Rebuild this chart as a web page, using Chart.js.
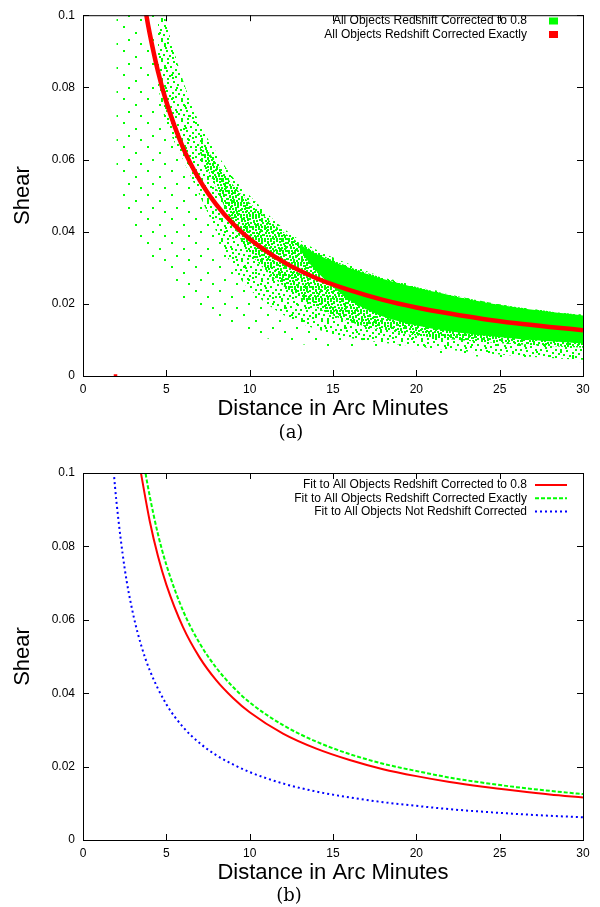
<!DOCTYPE html>
<html>
<head>
<meta charset="utf-8">
<script src="https://cdn.jsdelivr.net/npm/chart.js@4.4.1/dist/chart.umd.min.js"></script>
<style>
  html, body { margin: 0; padding: 0; background: #fff; }
  #page { position: relative; width: 600px; height: 907px; overflow: hidden; }
  canvas { position: absolute; left: 0; }
  #chartA { top: 0; }
  #chartB { top: 445px; }
  .tag { position: absolute; width: 60px; margin-left: -30px; text-align: center;
         font-family: "DejaVu Serif", "Liberation Serif", serif; font-size: 18px; line-height: 20px; color: #000; }
</style>
</head>
<body>
<div id="page">
  <canvas id="chartA" width="600" height="445"></canvas>
  <canvas id="chartB" width="600" height="462"></canvas>
  <div class="tag" style="left:291px; top:422px;">(a)</div>
  <div class="tag" style="left:289px; top:885px;">(b)</div>
</div>
<script>
// --- valores ---
const xTickLabels = ['0', '5', '10', '15', '20', '25', '30'];
const yTickLabels = ['0', '0.02', '0.04', '0.06', '0.08', '0.1'];

// (a) pontos vermelhos: redshift corrigido exatamente (faixa estreita)
const redX = [3.6, 3.8, 4, 4.5, 5, 6, 7, 8, 9, 10, 12, 14, 16, 18, 20, 22, 24, 26, 28, 30];
const redShear = [0.106, 0.1, 0.095, 0.0844, 0.076, 0.0633, 0.0543, 0.0475, 0.0422, 0.038, 0.0317, 0.0271, 0.0238, 0.0211, 0.019, 0.0173, 0.0158, 0.0146, 0.0136, 0.0127];
const redStrayX = [1.95];
const redStrayShear = [0];

// (a) nuvem verde: envelope externo (pontos esparsos)
const cloudX = [2, 2.5, 3, 3.5, 4, 4.5, 5, 6, 7, 8, 9, 10, 12, 14, 16, 18, 20, 22, 24, 26, 28, 30];
const cloudUpper = [0.12, 0.12, 0.12, 0.12, 0.12, 0.11, 0.098, 0.082, 0.071, 0.062, 0.055, 0.05, 0.041, 0.035, 0.031, 0.0275, 0.025, 0.0228, 0.0208, 0.0192, 0.018, 0.017];
const cloudLower = [0.056, 0.048, 0.04, 0.036, 0.033, 0.031, 0.028, 0.021, 0.0175, 0.0165, 0.0145, 0.012, 0.0094, 0.0085, 0.008, 0.0075, 0.0069, 0.006, 0.0053, 0.0047, 0.0042, 0.0038];

// (a) nuvem verde: zona de densidade média
const midX = [4.5, 5, 6, 7, 8, 9, 10, 12, 14, 16, 18, 20, 22, 24, 26, 28, 30];
const midUpper = [0.11, 0.098, 0.082, 0.07, 0.062, 0.055, 0.05, 0.041, 0.035, 0.031, 0.0274, 0.0248, 0.0227, 0.0207, 0.0191, 0.0179, 0.0169];
const midLower = [0.08, 0.07, 0.06, 0.05, 0.04, 0.03, 0.024, 0.017, 0.013, 0.0105, 0.0092, 0.0082, 0.0072, 0.0064, 0.0056, 0.005, 0.0045];

// (a) nuvem verde: zona densa
const denseX = [7, 8, 9, 10, 12, 14, 16, 18, 20, 22, 24, 26, 28, 30];
const denseUpper = [0.066, 0.059, 0.053, 0.048, 0.04, 0.0342, 0.0302, 0.0272, 0.0247, 0.0226, 0.0207, 0.0191, 0.0179, 0.0169];
const denseLower = [0.062, 0.052, 0.042, 0.034, 0.025, 0.019, 0.015, 0.0128, 0.0112, 0.0102, 0.0094, 0.0088, 0.0083, 0.0078];

// (a) nuvem verde: núcleo quase sólido
const coreX = [13, 14, 16, 18, 20, 22, 24, 26, 28, 30];
const coreUpper = [0.0365, 0.0338, 0.0299, 0.0269, 0.0245, 0.0224, 0.0205, 0.019, 0.0178, 0.0168];
const coreLower = [0.035, 0.029, 0.021, 0.0165, 0.014, 0.0124, 0.0112, 0.0103, 0.0096, 0.009];

// (b) curvas ajustadas
const fitRedX = [3.4, 3.5, 4, 4.5, 5, 6, 7, 8, 9, 10, 12, 14, 16, 18, 20, 22, 24, 26, 28, 30];
const fitRedShear = [0.102, 0.0994, 0.087, 0.0773, 0.0696, 0.058, 0.0497, 0.0435, 0.0387, 0.0348, 0.029, 0.0249, 0.0218, 0.0193, 0.0174, 0.0158, 0.0145, 0.0134, 0.0124, 0.0116];
const fitGreenX = [3.7, 3.75, 4, 4.5, 5, 6, 7, 8, 9, 10, 12, 14, 16, 18, 20, 22, 24, 26, 28, 30];
const fitGreenShear = [0.1015, 0.1, 0.0938, 0.0833, 0.075, 0.0625, 0.0536, 0.0469, 0.0417, 0.0375, 0.0313, 0.0268, 0.0234, 0.0208, 0.0188, 0.017, 0.0156, 0.0144, 0.0134, 0.0125];
const fitBlueX = [1.8, 1.85, 2, 2.5, 3, 3.5, 4, 5, 6, 7, 8, 9, 10, 12, 14, 16, 18, 20, 22, 24, 26, 28, 30];
const fitBlueShear = [0.103, 0.1, 0.0925, 0.074, 0.0617, 0.0529, 0.0463, 0.037, 0.0308, 0.0264, 0.0231, 0.0206, 0.0185, 0.0154, 0.0132, 0.0116, 0.0103, 0.0093, 0.0084, 0.0077, 0.0071, 0.0066, 0.0062];

const legendTop = ['All Objects Redshift Corrected to 0.8', 'All Objects Redshift Corrected Exactly'];
const legendBottom = ['Fit to All Objects Redshift Corrected to 0.8', 'Fit to All Objects Redshift Corrected Exactly', 'Fit to All Objects Not Redshift Corrected'];

const GREEN = '#00ff00', RED = '#ff0000', BLUE = '#0000ff';
const FONT = '"Liberation Sans", Arial, sans-serif';
const NONE = 'rgba(0,0,0,0)';

function pts(xs, ys) {
    return xs.map((x, i) => ({ x: x, y: ys[i] }));
}

// padrão de pontinhos para imitar a nuvem de pontos
function dotPattern(size, spots) {
    const tile = document.createElement('canvas');
    tile.width = size; tile.height = size;
    const c = tile.getContext('2d');
    c.fillStyle = GREEN;
    spots.forEach(s => c.fillRect(s[0], s[1], 2, 2));
    return document.getElementById('chartA').getContext('2d').createPattern(tile, 'repeat');
}
const sparseDots = dotPattern(24, [[3, 2], [15, 8], [8, 15], [20, 19]]);
const mediumDots = dotPattern(20, [[1, 0], [7, 2], [13, 1], [17, 4], [4, 5], [10, 6], [15, 9], [0, 9],
                                   [6, 10], [12, 12], [18, 13], [3, 14], [9, 15], [15, 16], [1, 18],
                                   [7, 18], [12, 17], [5, 7]]);
const denseDots = dotPattern(12, [[0, 0], [3, 1], [6, 0], [9, 2], [1, 4], [4, 4], [7, 3], [10, 6],
                                  [2, 7], [5, 7], [8, 8], [0, 10], [3, 10], [6, 10], [9, 10]]);

// moldura com marcas de escala para dentro (estilo gnuplot)
const frameTicks = {
    id: 'frameTicks',
    afterDatasetsDraw(chart) {
        const { ctx, chartArea: a, scales: { x, y } } = chart;
        ctx.save();
        ctx.strokeStyle = '#000';
        ctx.lineWidth = 1;
        ctx.strokeRect(a.left + 0.5, a.top + 0.5, a.right - a.left, a.bottom - a.top);
        ctx.beginPath();
        x.ticks.forEach(t => {
            const p = Math.round(x.getPixelForValue(t.value)) + 0.5;
            ctx.moveTo(p, a.bottom); ctx.lineTo(p, a.bottom - 6);
            ctx.moveTo(p, a.top); ctx.lineTo(p, a.top + 6);
        });
        y.ticks.forEach(t => {
            const p = Math.round(y.getPixelForValue(t.value)) + 0.5;
            ctx.moveTo(a.left, p); ctx.lineTo(a.left + 6, p);
            ctx.moveTo(a.right, p); ctx.lineTo(a.right - 6, p);
        });
        ctx.stroke();
        ctx.restore();
    }
};

// legenda no canto superior direito, texto alinhado à direita
const boxLegend = {
    id: 'boxLegend',
    afterDraw(chart, args, opts) {
        if (!opts.items) return;
        const ctx = chart.ctx;
        ctx.save();
        ctx.font = '12px ' + FONT;
        ctx.textAlign = 'right';
        ctx.textBaseline = 'middle';
        opts.items.forEach((it, i) => {
            const yy = opts.y + i * opts.step;
            ctx.fillStyle = '#000';
            ctx.fillText(it.text, opts.textRight, yy);
            if (it.box) {
                ctx.fillStyle = it.color;
                ctx.fillRect(549, yy - 3.5, 9, 7);
            } else {
                ctx.strokeStyle = it.color;
                ctx.lineWidth = 2;
                ctx.setLineDash(it.dash || []);
                ctx.beginPath();
                ctx.moveTo(535, yy); ctx.lineTo(567, yy);
                ctx.stroke();
                ctx.setLineDash([]);
            }
        });
        ctx.restore();
    }
};

function makeScales(xHeight, xTitlePad) {
    return {
        x: {
            type: 'linear', min: 0, max: 30,
            grid: { display: false, drawTicks: false },
            border: { display: false },
            ticks: {
                stepSize: 5, padding: 6, color: '#000',
                font: { family: FONT, size: 12 },
                callback: v => xTickLabels[Math.round(v / 5)]
            },
            title: {
                display: true, text: 'Distance in Arc Minutes', color: '#000',
                font: { family: FONT, size: 22 }, padding: { top: 0, bottom: xTitlePad }
            },
            afterFit: s => { s.height = xHeight; }
        },
        y: {
            type: 'linear', min: 0, max: 0.1,
            grid: { display: false, drawTicks: false },
            border: { display: false },
            ticks: {
                stepSize: 0.02, padding: 8, color: '#000',
                font: { family: FONT, size: 12 },
                callback: v => yTickLabels[Math.round(v / 0.02)]
            },
            title: {
                display: true, text: 'Shear', color: '#000',
                font: { family: FONT, size: 22 }, padding: { top: 10, bottom: 0 }
            },
            afterFit: s => { s.width = 83; }
        }
    };
}

function band(data, fill, color) {
    return {
        data: data, fill: fill, backgroundColor: color,
        borderColor: NONE, borderWidth: 0, pointRadius: 0, tension: 0.3
    };
}

// 1. Painel (a): dispersão
new Chart(document.getElementById('chartA'), {
    type: 'line',
    data: {
        datasets: [
            {
                label: legendTop[1], data: pts(redStrayX, redStrayShear), showLine: false,
                pointStyle: 'rect', pointRadius: 2.5, backgroundColor: RED, borderColor: RED, borderWidth: 0
            },
            {
                label: legendTop[1], data: pts(redX, redShear), borderColor: RED, borderWidth: 4.5,
                pointRadius: 0, fill: false, cubicInterpolationMode: 'monotone'
            },
            band(pts(coreX, coreUpper), '+1', GREEN),
            band(pts(coreX, coreLower), false, NONE),
            band(pts(denseX, denseUpper), '+1', denseDots),
            band(pts(denseX, denseLower), false, NONE),
            band(pts(midX, midUpper), '+1', mediumDots),
            band(pts(midX, midLower), false, NONE),
            band(pts(cloudX, cloudUpper), '+1', sparseDots),
            band(pts(cloudX, cloudLower), false, NONE)
        ]
    },
    options: {
        responsive: false,
        animation: false,
        devicePixelRatio: 1,
        layout: { padding: { top: 9, right: 17, left: 0, bottom: 0 } },
        scales: makeScales(69, 23),
        plugins: {
            legend: { display: false },
            tooltip: { enabled: false },
            boxLegend: {
                textRight: 527, y: 21, step: 13.5,
                items: [
                    { text: legendTop[0], color: GREEN, box: true },
                    { text: legendTop[1], color: RED, box: true }
                ]
            }
        }
    },
    plugins: [frameTicks, boxLegend]
});

// 2. Painel (b): curvas ajustadas
new Chart(document.getElementById('chartB'), {
    type: 'line',
    data: {
        datasets: [
            {
                label: legendBottom[0], data: pts(fitRedX, fitRedShear), borderColor: RED,
                borderWidth: 2, pointRadius: 0, fill: false, cubicInterpolationMode: 'monotone'
            },
            {
                label: legendBottom[1], data: pts(fitGreenX, fitGreenShear), borderColor: GREEN,
                borderWidth: 2, borderDash: [4, 2], pointRadius: 0, fill: false, cubicInterpolationMode: 'monotone'
            },
            {
                label: legendBottom[2], data: pts(fitBlueX, fitBlueShear), borderColor: BLUE,
                borderWidth: 2, borderDash: [2, 3], pointRadius: 0, fill: false, cubicInterpolationMode: 'monotone'
            }
        ]
    },
    options: {
        responsive: false,
        animation: false,
        devicePixelRatio: 1,
        layout: { padding: { top: 28, right: 17, left: 0, bottom: 0 } },
        scales: makeScales(67, 21),
        plugins: {
            legend: { display: false },
            tooltip: { enabled: false },
            boxLegend: {
                textRight: 527, y: 40, step: 13.3,
                items: [
                    { text: legendBottom[0], color: RED },
                    { text: legendBottom[1], color: GREEN, dash: [4, 2] },
                    { text: legendBottom[2], color: BLUE, dash: [2, 3] }
                ]
            }
        }
    },
    plugins: [frameTicks, boxLegend]
});
</script>
</body>
</html>
